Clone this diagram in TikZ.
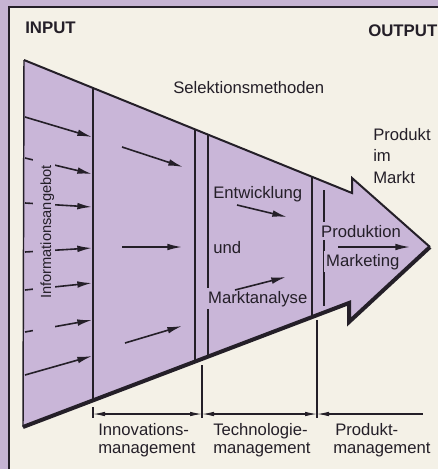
\documentclass[tikz,border=0pt]{standalone}
\usepackage{fontspec}
\setmainfont{Liberation Sans}
\usetikzlibrary{arrows.meta,calc}

\definecolor{framepurple}{RGB}{198,180,211}
\definecolor{paper}{RGB}{244,241,231}
\definecolor{funnel}{RGB}{201,182,216}
\definecolor{ink}{RGB}{36,31,40}

\begin{document}
\begin{tikzpicture}[x=0.75pt,y=-0.75pt,
  lbl/.style={font=\fontsize{12.5}{14}\selectfont, text=ink, inner sep=0pt, anchor=base west},
  masklbl/.style={lbl, fill=funnel, inner sep=2pt},
  head/.style={font=\bfseries\fontsize{12.6}{14}\selectfont, text=ink, inner sep=0pt, anchor=base west},
  divider/.style={draw=ink, line width=0.9pt},
  flow/.style={draw=ink, line width=1.2pt, -{Latex[length=11pt,width=5pt]}},
  dimline/.style={draw=ink, line width=0.8pt},
  dimboth/.style={dimline, {Latex[length=9pt,width=3.4pt]}-{Latex[length=9pt,width=3.4pt]}},
  dimleft/.style={dimline, {Latex[length=9pt,width=3.4pt]}-},
]
\useasboundingbox (0,0) rectangle (438,469);

% frame and paper
\fill[framepurple] (0,0) rectangle (438,469);
\fill[paper] (9,7) rectangle (445,475);
\draw[ink, line width=0.9pt] (9,475) -- (9,7) -- (445,7);

% corner points of the funnel arrow
\coordinate (TL) at (24,60);
\coordinate (TN) at (352,193);
\coordinate (TB) at (352,178);
\coordinate (TIP) at (430,247);
\coordinate (BB) at (349,322);
\coordinate (BN) at (349,303);
\coordinate (BL) at (23,427);

\fill[funnel] (TL) -- (TN) -- (TB) -- (TIP) -- (BB) -- (BN) -- (BL) -- cycle;

% stage dividers
\draw[divider] (93,88) -- (93,400.4);
\draw[divider] (195,129.3) -- (195,361.6);
\draw[divider] (208,134.6) -- (208,356.6);
\draw[divider] (312,176.8) -- (312,317.1);
\draw[divider] (324,190) -- (324,306);

% incoming information
\foreach \n/\ya/\yb in {1/117/137, 2/158/174, 3/203/207, 4/252/248, 5/290/283, 6/332/320, 7/375/356} {
  \coordinate (in\n) at (25,\ya);
  \coordinate (out\n) at (92,\yb);
  \draw[flow] (in\n) -- (out\n);
}
\fill[funnel] (33,150) rectangle (55,342);
\node[lbl, anchor=base, rotate=90, font=\fontsize{11}{13}\selectfont] (info) at (51,232) {Informationsangebot};

% innovation stage
\foreach \n/\xa/\ya/\xb/\yb in {1/122/147/183/167, 2/122/247/182/247, 3/125/343/182/326} {
  \coordinate (ia\n) at (\xa,\ya);
  \coordinate (ib\n) at (\xb,\yb);
  \draw[flow] (ia\n) -- (ib\n);
}

% technology stage
\node[lbl] (entw) at (213,198) {Entwicklung};
\node[lbl] (und) at (213,253) {und};
\node[masklbl] (markt) at (205.3,303) {Marktanalyse};
\coordinate (ta1) at (237,205); \coordinate (tb1) at (287,217);
\coordinate (ta2) at (235,290); \coordinate (tb2) at (286,277);
\draw[flow] (ta1) -- (tb1);
\draw[flow] (ta2) -- (tb2);

% product stage
\node[masklbl] (prod) at (318.3,237) {Produktion};
\node[masklbl] (mark) at (323.3,266) {Marketing};
\coordinate (pa) at (338,247); \coordinate (pb) at (410,247);
\draw[flow] (pa) -- (pb);

% funnel outline, heavier along the lower side
\draw[ink, line width=1.1pt] (BL) -- (TL);
\draw[ink, line width=1.5pt, line join=miter] (TL) -- (TN) -- (TB) -- (TIP);
\draw[ink, line width=3pt, line join=miter] (TIP) -- (BB) -- (BN) -- (BL);

% headings
\node[head] (input) at (25,33) {INPUT};
\node[head] (output) at (368,36) {OUTPUT};
\node[lbl] (sel) at (173,93) {Selektionsmethoden};
\node[lbl] (pim1) at (373,140) {Produkt};
\node[lbl] (pim2) at (373,161) {im};
\node[lbl] (pim3) at (373,183) {Markt};

% management spans
\coordinate (d0) at (93,414);
\coordinate (d1) at (202,414);
\coordinate (d2) at (317,414);
\coordinate (d3) at (423,414);
\draw[dimline] (93,407) -- (93,418);
\draw[dimline] (202,365) -- (202,418);
\draw[dimline] (317,320) -- (317,418);
\draw[dimboth] (d0) -- (d1);
\draw[dimboth] (d1) -- (d2);
\draw[dimleft] (d2) -- (d3);

\node[lbl] (inno1) at (98,435) {Innovations-};
\node[lbl] (inno2) at (98,453) {management};
\node[lbl] (tech1) at (213,435) {Technologie-};
\node[lbl] (tech2) at (213,453) {management};
\node[lbl] (pm1) at (335,435) {Produkt-};
\node[lbl] (pm2) at (333,453) {management};
\end{tikzpicture}
\end{document}
